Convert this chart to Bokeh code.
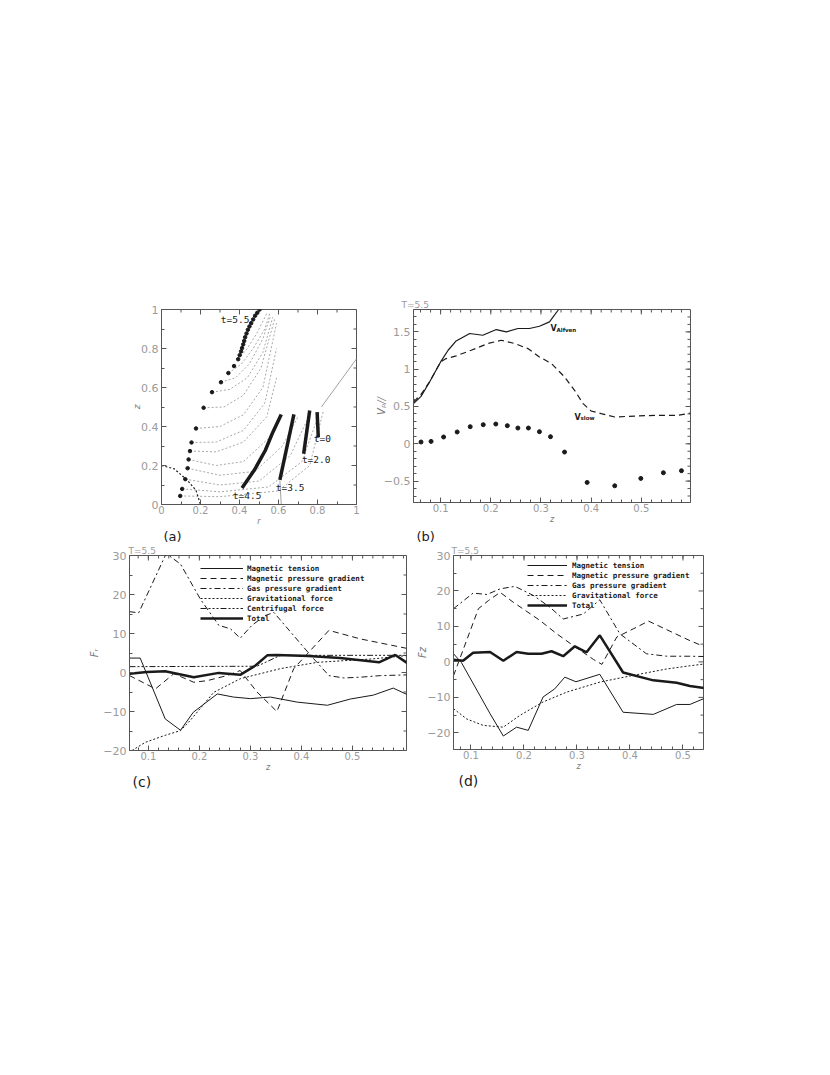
from bokeh.plotting import figure
from bokeh.models import (Range1d, FixedTicker, Label, Legend, LegendItem,
                          Spacer, Title)
from bokeh.layouts import column, row
from bokeh.embed import file_html
from bokeh.resources import INLINE

# ------------------------------------------------------------------ data
# (a) trajectory dots (t=5.5 front) and field-line sketch
dots_r = [0.503, 0.491, 0.480, 0.470, 0.460, 0.451, 0.443, 0.436, 0.429, 0.424,
          0.419, 0.413, 0.408, 0.401, 0.393, 0.372, 0.343, 0.305, 0.259, 0.216,
          0.177, 0.154, 0.146, 0.139, 0.134, 0.122, 0.106, 0.096]
dots_z = [1.000, 0.983, 0.968, 0.949, 0.930, 0.913, 0.896, 0.877, 0.858, 0.839,
          0.821, 0.802, 0.785, 0.766, 0.745, 0.710, 0.674, 0.627, 0.576, 0.496,
          0.390, 0.318, 0.274, 0.231, 0.186, 0.130, 0.080, 0.044]
t0_r, t0_z = [0.798, 0.804], [0.474, 0.345]
t20_r, t20_z = [0.760, 0.729], [0.482, 0.260]
t35_r, t35_z = [0.679, 0.607], [0.462, 0.126]
t45_r = [0.614, 0.571, 0.532, 0.477, 0.413]
t45_z = [0.462, 0.371, 0.277, 0.178, 0.085]
sep_r = [0.0, 0.065, 0.134, 0.177, 0.200]
sep_z = [0.200, 0.183, 0.123, 0.072, 0.0]
thin_r = [[0.82, 1.0], [0.607, 0.614]]
thin_z = [[0.50, 0.747], [0.123, 0.003]]
fl_r = [
    [0.305, 0.38, 0.45, 0.52, 0.56],
    [0.259, 0.35, 0.44, 0.52, 0.57],
    [0.216, 0.32, 0.42, 0.51, 0.58],
    [0.177, 0.30, 0.42, 0.52, 0.59],
    [0.154, 0.28, 0.42, 0.53, 0.59],
    [0.146, 0.28, 0.42, 0.54, 0.59],
    [0.139, 0.28, 0.42, 0.55, 0.62],
    [0.134, 0.30, 0.48, 0.62, 0.70],
    [0.122, 0.30, 0.50, 0.66, 0.76],
    [0.106, 0.30, 0.55, 0.72, 0.81],
    [0.096, 0.30, 0.60, 0.76, 0.83],
    [0.343, 0.41, 0.47, 0.53, 0.555],
    [0.393, 0.44, 0.49, 0.54],
]
fl_z = [
    [0.627, 0.65, 0.72, 0.85, 0.97],
    [0.576, 0.59, 0.65, 0.78, 0.96],
    [0.496, 0.50, 0.56, 0.70, 0.95],
    [0.390, 0.40, 0.46, 0.60, 0.93],
    [0.318, 0.32, 0.38, 0.52, 0.80],
    [0.274, 0.27, 0.32, 0.45, 0.65],
    [0.231, 0.20, 0.22, 0.34, 0.46],
    [0.186, 0.15, 0.17, 0.30, 0.45],
    [0.130, 0.10, 0.12, 0.25, 0.46],
    [0.080, 0.065, 0.09, 0.22, 0.47],
    [0.044, 0.04, 0.07, 0.20, 0.48],
    [0.674, 0.72, 0.80, 0.90, 0.98],
    [0.745, 0.80, 0.88, 0.98],
]
a_ticks = [0, 0.2, 0.4, 0.6, 0.8, 1]
a_labels = ["0", "0.2", "0.4", "0.6", "0.8", "1"]

# (b) velocities
z_alf = [0.046, 0.061, 0.078, 0.100, 0.115, 0.131, 0.158, 0.184, 0.211, 0.231,
         0.254, 0.277, 0.297, 0.317, 0.334, 0.340]
v_alf = [0.538, 0.636, 0.829, 1.097, 1.254, 1.379, 1.478, 1.455, 1.531, 1.500,
         1.545, 1.545, 1.576, 1.634, 1.790, 1.850]
z_slow = [0.046, 0.061, 0.078, 0.100, 0.111, 0.131, 0.161, 0.194, 0.221, 0.248,
          0.274, 0.297, 0.321, 0.347, 0.367, 0.384, 0.400, 0.420, 0.447, 0.473,
          0.527, 0.573, 0.598]
v_slow = [0.560, 0.663, 0.829, 1.097, 1.142, 1.178, 1.254, 1.343, 1.388, 1.343,
          1.276, 1.164, 1.075, 0.896, 0.717, 0.538, 0.440, 0.404, 0.359, 0.368,
          0.381, 0.381, 0.413]
z_pts = [0.061, 0.081, 0.106, 0.133, 0.159, 0.185, 0.210, 0.233, 0.254, 0.275,
         0.297, 0.319, 0.347, 0.392, 0.447, 0.499, 0.544, 0.580]
v_pts = [0.024, 0.032, 0.091, 0.158, 0.229, 0.256, 0.265, 0.243, 0.211, 0.211,
         0.162, 0.095, -0.111, -0.518, -0.563, -0.464, -0.388, -0.361]
z_ticks = [0.1, 0.2, 0.3, 0.4, 0.5]
z_labels = ["0.1", "0.2", "0.3", "0.4", "0.5"]
b_yticks = [-0.5, 0, 0.5, 1, 1.5]
b_ylabels = ["\u22120.5", "0", "0.5", "1", "1.5"]

# (c) radial forces
c_tension_z = [0.063, 0.084, 0.133, 0.163, 0.188, 0.235, 0.267, 0.300, 0.339,
               0.392, 0.451, 0.496, 0.541, 0.580, 0.608]
c_tension = [3.7, 3.7, -11.9, -14.8, -10.2, -5.5, -6.3, -6.7, -6.3, -7.6, -8.4,
             -6.8, -5.8, -4.0, -5.7]
c_magp_z = [0.063, 0.114, 0.150, 0.189, 0.215, 0.254, 0.280, 0.313, 0.352,
            0.385, 0.418, 0.454, 0.516, 0.610]
c_magp = [-0.8, -4.2, -0.3, -2.5, -2.1, -0.8, 0.5, -5.0, -10.0, 1.0, 5.7, 10.8,
          8.6, 6.1]
c_gas_z = [0.063, 0.081, 0.135, 0.163, 0.202, 0.238, 0.261, 0.280, 0.303, 0.329,
           0.346, 0.418, 0.454, 0.483, 0.516, 0.555, 0.610]
c_gas = [15.6, 15.3, 30.5, 27.8, 18.8, 12.1, 11.2, 8.8, 12.1, 14.6, 15.4, 4.4,
         -0.8, -1.4, -1.2, -0.8, -0.6]
c_grav_z = [0.068, 0.094, 0.133, 0.163, 0.182, 0.228, 0.280, 0.359, 0.431,
            0.541, 0.610]
c_grav = [-20.0, -17.9, -16.1, -14.9, -12.3, -5.1, -1.6, 1.0, 2.6, 3.5, 4.4]
c_cent_z = [0.063, 0.313, 0.359, 0.414, 0.610]
c_cent = [1.5, 1.6, 4.4, 4.4, 4.4]
c_total_z = [0.063, 0.097, 0.133, 0.189, 0.238, 0.280, 0.310, 0.333, 0.352,
             0.414, 0.476, 0.552, 0.584, 0.610]
c_total = [-0.3, 0.1, 0.3, -1.2, -0.1, -0.6, 1.8, 4.4, 4.5, 4.2, 3.7, 2.6,
           4.5, 2.2]

# (d) vertical forces
d_tension_z = [0.067, 0.082, 0.136, 0.161, 0.186, 0.208, 0.236, 0.258, 0.277,
               0.298, 0.343, 0.387, 0.444, 0.488, 0.513, 0.545]
d_tension = [2.3, -0.2, -14.6, -20.9, -18.4, -19.3, -9.9, -7.6, -4.3, -5.6,
             -3.5, -14.2, -14.8, -12.0, -12.0, -10.0]
d_magp_z = [0.067, 0.114, 0.133, 0.155, 0.180, 0.230, 0.262, 0.293, 0.331, 0.347,
            0.375, 0.406, 0.435, 0.513, 0.545]
d_magp = [-3.9, 15.0, 17.3, 19.6, 16.8, 11.7, 7.9, 4.6, 0.7, -0.7, 7.0, 9.3,
          11.5, 6.0, 4.0]
d_gas_z = [0.067, 0.104, 0.130, 0.155, 0.183, 0.218, 0.249, 0.274, 0.312, 0.343,
           0.381, 0.431, 0.469, 0.513, 0.545]
d_gas = [15.0, 19.4, 19.0, 20.6, 21.3, 18.7, 15.4, 12.1, 13.5, 17.5, 7.9, 2.3,
         1.6, 1.6, 1.5]
d_grav_z = [0.067, 0.092, 0.123, 0.161, 0.192, 0.236, 0.281, 0.343, 0.406,
            0.469, 0.513, 0.545]
d_grav = [-13.2, -16.1, -17.9, -18.4, -15.1, -11.3, -8.5, -5.7, -3.8, -2.0,
          -1.1, -0.5]
d_total_z = [0.067, 0.085, 0.104, 0.136, 0.161, 0.186, 0.208, 0.233, 0.252,
             0.274, 0.296, 0.318, 0.343, 0.387, 0.444, 0.488, 0.513, 0.545]
d_total = [0.6, 0.3, 2.6, 2.8, 0.3, 2.8, 2.3, 2.3, 3.0, 1.6, 4.4, 2.7, 7.5,
           -3.0, -5.2, -5.9, -6.8, -7.5]
f_ticks = [-20, -10, 0, 10, 20, 30]
f_labels = ["\u221220", "\u221210", "0", "10", "20", "30"]

legend_names = ["Magnetic tension", "Magnetic pressure gradient",
                "Gas pressure gradient", "Gravitational force",
                "Centrifugal force", "Total"]

# ------------------------------------------------------------------ style
TICK_FONT = "DejaVu Sans"
TICK_COLOR = "#9a9a9a"
LABEL_COLOR = "#7a7a7a"
FRAME = "#555555"
INK = "#1a1a1a"
DASH = "6 4"
DASHDOT = "6 3 2 3"
DASH3DOT = "6 2 2 2 2 2 2 2"
DOT = "2 2"
DOWN, LEFT = -1.5708, 3.14159


def make_fig(xr, yr, fw, fh, bl, br, bt, bb):
    p = figure(frame_width=fw, frame_height=fh,
               x_range=Range1d(*xr), y_range=Range1d(*yr),
               output_backend="svg", toolbar_location=None,
               min_border_left=bl, min_border_right=br,
               min_border_top=bt, min_border_bottom=bb,
               background_fill_color="white", border_fill_color="white")
    p.grid.visible = False
    p.outline_line_color = FRAME
    p.outline_line_width = 1
    return p


def setup_axes(p, xr, yr, xt, xl, xminor, yt, yl, yminor, xlabel, ylabel,
               yl_standoff=2, ylabel_size=10):
    p.xaxis[0].ticker = FixedTicker(ticks=xt, minor_ticks=xminor)
    p.yaxis[0].ticker = FixedTicker(ticks=yt, minor_ticks=yminor)
    p.xaxis[0].major_label_overrides = dict(zip(xt, xl))
    p.yaxis[0].major_label_overrides = dict(zip(yt, yl))
    for ax in (p.xaxis[0], p.yaxis[0]):
        ax.major_tick_in = 5
        ax.major_tick_out = 0
        ax.minor_tick_in = 3
        ax.minor_tick_out = 0
        ax.axis_line_color = FRAME
        ax.major_tick_line_color = FRAME
        ax.minor_tick_line_color = FRAME
        ax.major_label_text_font = TICK_FONT
        ax.major_label_text_color = TICK_COLOR
        ax.axis_label_text_font = TICK_FONT
        ax.axis_label_text_font_style = "italic"
        ax.axis_label_text_color = LABEL_COLOR
    p.xaxis[0].major_label_text_font_size = "10px"
    p.yaxis[0].major_label_text_font_size = "11px"
    p.xaxis[0].major_label_standoff = 1
    p.yaxis[0].major_label_standoff = 3
    p.xaxis[0].axis_label = xlabel
    p.xaxis[0].axis_label_text_font_size = "8px"
    p.xaxis[0].axis_label_standoff = 0
    p.yaxis[0].axis_label = ylabel
    p.yaxis[0].axis_label_text_font_size = f"{ylabel_size}px"
    p.yaxis[0].axis_label_standoff = yl_standoff
    # inward ticks on the top and right frame edges
    p.ray(x=xt, y=[yr[1]] * len(xt), length=5, length_units="screen",
          angle=DOWN, line_color=FRAME, line_width=1)
    p.ray(x=xminor, y=[yr[1]] * len(xminor), length=3, length_units="screen",
          angle=DOWN, line_color=FRAME, line_width=1)
    p.ray(x=[xr[1]] * len(yt), y=yt, length=5, length_units="screen",
          angle=LEFT, line_color=FRAME, line_width=1)
    p.ray(x=[xr[1]] * len(yminor), y=yminor, length=3, length_units="screen",
          angle=LEFT, line_color=FRAME, line_width=1)


def add_title(p, text, side, offset, standoff, size, color=INK):
    p.add_layout(Title(text=text, align="left", offset=offset,
                       standoff=standoff, text_font=TICK_FONT,
                       text_font_size=f"{size}px", text_font_style="normal",
                       text_color=color), side)


def txt(p, x, y, text, size, color=INK, font="DejaVu Sans", style="normal",
        align="left", baseline="middle", xo=0, yo=0):
    p.add_layout(Label(x=x, y=y, text=text, text_font=font,
                       text_font_size=f"{size}px", text_color=color,
                       text_font_style=style, text_align=align,
                       text_baseline=baseline, x_offset=xo, y_offset=yo))


def minor(lo, hi, step):
    n = int(round((hi - lo) / step))
    return [round(lo + i * step, 4) for i in range(n + 1)]


# ------------------------------------------------------------------ (a)
a_xr, a_yr = (0, 1), (0, 1)
pa = make_fig(a_xr, a_yr, 195, 195, 153, 16, 16, 24)
setup_axes(pa, a_xr, a_yr, a_ticks, a_labels, minor(0.1, 0.9, 0.2),
           a_ticks, a_labels, minor(0.1, 0.9, 0.2), "r", "z",
           yl_standoff=-4, ylabel_size=9)
pa.multi_line(fl_r, fl_z, line_color="#a8a8a8", line_width=1, line_dash=DOT)
pa.multi_line(thin_r, thin_z, line_color="#a0a0a0", line_width=1)
pa.line(sep_r, sep_z, line_color=INK, line_width=1.2, line_dash=DOT)
pa.scatter(dots_r, dots_z, size=3.5, color=INK)
for rr, zz in ((t0_r, t0_z), (t20_r, t20_z), (t35_r, t35_z), (t45_r, t45_z)):
    pa.line(rr, zz, line_color=INK, line_width=3.5)
for x, y, t in ((0.304, 0.95, "t=5.5"), (0.781, 0.337, "t=0"),
                (0.72, 0.232, "t=2.0"), (0.586, 0.088, "t=3.5"),
                (0.366, 0.047, "t=4.5")):
    txt(pa, x, y, t, 9.5, font="DejaVu Sans Mono")

# ------------------------------------------------------------------ (b)
b_xr, b_yr = (0.046, 0.598), (-0.787, 1.8)
pb = make_fig(b_xr, b_yr, 277, 193, 40, 20, 19, 23)
setup_axes(pb, b_xr, b_yr, z_ticks, z_labels, minor(0.06, 0.58, 0.02),
           b_yticks, b_ylabels, minor(-0.7, 1.7, 0.1), "z", "V\u209a//",
           yl_standoff=-6)
pb.line(z_alf, v_alf, line_color=INK, line_width=1.2)
pb.line(z_slow, v_slow, line_color=INK, line_width=1.2, line_dash=DASH)
pb.scatter(z_pts, v_pts, size=4, color=INK)
txt(pb, 0.319, 1.543, "V", 8, style="bold")
txt(pb, 0.319, 1.543, "Alfven", 5.5, style="bold", xo=6, yo=-1)
txt(pb, 0.367, 0.357, "V", 8, style="bold")
txt(pb, 0.367, 0.357, "slow", 5.5, style="bold", xo=6, yo=-1)
add_title(pb, "T=5.5", "above", -12, 0, 9, TICK_COLOR)

# ------------------------------------------------------------------ (c)
c_xr, c_yr = (0.063, 0.606), (-20, 30)
pc = make_fig(c_xr, c_yr, 277, 195, 121, 8, 28, 42)
setup_axes(pc, c_xr, c_yr, z_ticks, z_labels, minor(0.08, 0.6, 0.02),
           f_ticks, f_labels, minor(-15, 25, 10), "z", "F\u1d63",
           yl_standoff=0)
rc = [
    pc.line(c_tension_z, c_tension, line_color=INK, line_width=1),
    pc.line(c_magp_z, c_magp, line_color=INK, line_width=1, line_dash=DASH),
    pc.line(c_gas_z, c_gas, line_color=INK, line_width=1, line_dash=DASHDOT),
    pc.line(c_grav_z, c_grav, line_color=INK, line_width=1, line_dash=DOT),
    pc.line(c_cent_z, c_cent, line_color=INK, line_width=1, line_dash=DASH3DOT),
    pc.line(c_total_z, c_total, line_color=INK, line_width=2.5),
]
leg_c = Legend(items=[LegendItem(label=n, renderers=[r])
                      for n, r in zip(legend_names, rc)],
               location=(71, 127), glyph_width=43, glyph_height=10,
               label_height=10, label_standoff=4, spacing=0, padding=0,
               margin=0, border_line_alpha=0, background_fill_alpha=0,
               label_text_font="DejaVu Sans Mono", label_text_font_style="bold",
               label_text_font_size="7.5px", label_text_color=INK)
pc.add_layout(leg_c)
add_title(pc, "T=5.5", "above", -1, 0, 9, TICK_COLOR)
add_title(pc, "(a)", "above", 34, 0, 13)      # panel tag of the plot above
add_title(pc, "(c)", "below", 3, -6, 14)

# ------------------------------------------------------------------ (d)
d_xr, d_yr = (0.067, 0.5387), (-24.7, 30)
pd_ = make_fig(d_xr, d_yr, 250, 194, 39, 20, 28, 43)
setup_axes(pd_, d_xr, d_yr, z_ticks, z_labels, minor(0.08, 0.52, 0.02),
           f_ticks, f_labels, minor(-15, 25, 10), "z", "Fz",
           yl_standoff=-4)
rd = [
    pd_.line(d_tension_z, d_tension, line_color=INK, line_width=1),
    pd_.line(d_magp_z, d_magp, line_color=INK, line_width=1, line_dash=DASH),
    pd_.line(d_gas_z, d_gas, line_color=INK, line_width=1, line_dash=DASHDOT),
    pd_.line(d_grav_z, d_grav, line_color=INK, line_width=1, line_dash=DOT),
    pd_.line(d_total_z, d_total, line_color=INK, line_width=2.5),
]
d_names = [legend_names[i] for i in (0, 1, 2, 3, 5)]
leg_d = Legend(items=[LegendItem(label=n, renderers=[r])
                      for n, r in zip(d_names, rd)],
               location=(74, 139), glyph_width=40, glyph_height=10,
               label_height=10, label_standoff=5, spacing=0, padding=0,
               margin=0, border_line_alpha=0, background_fill_alpha=0,
               label_text_font="DejaVu Sans Mono", label_text_font_style="bold",
               label_text_font_size="7.5px", label_text_color=INK)
pd_.add_layout(leg_d)
add_title(pd_, "T=5.5", "above", -2, 0, 9, TICK_COLOR)
add_title(pd_, "(b)", "above", -37, 0, 13)    # panel tag of the plot above
add_title(pd_, "(d)", "below", 5, -6, 14)

layout = column(Spacer(width=700, height=290),
                row(Spacer(width=8, height=10), pa, pb),
                row(Spacer(width=8, height=10), pc, pd_))

open("out.html", "w").write(file_html(layout, INLINE))
